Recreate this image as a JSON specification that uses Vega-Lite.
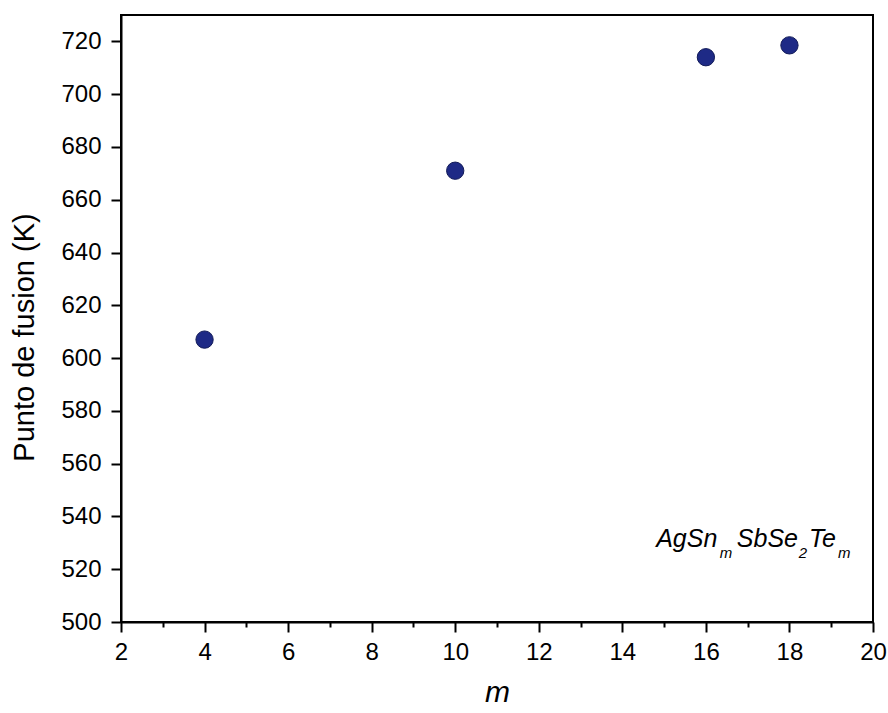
{
  "$schema": "https://vega.github.io/schema/vega-lite/v6.json",
  "width": 752,
  "height": 607,
  "autosize": {"type": "none"},
  "padding": {"left": 121, "top": 15, "right": 15, "bottom": 91},
  "background": "white",
  "config": {
    "view": {"stroke": "black", "strokeWidth": 2},
    "font": "Liberation Sans",
    "axis": {
      "domainColor": "black",
      "domainWidth": 2,
      "tickColor": "black",
      "tickWidth": 2,
      "labelColor": "black",
      "labelFont": "Liberation Sans",
      "labelFontSize": 24,
      "titleFont": "Liberation Sans",
      "titleColor": "black",
      "titleFontWeight": "normal",
      "grid": false,
      "labelOverlap": false,
      "labelFlush": false
    }
  },
  "datasets": {
    "points": [
      {"m": 4, "T": 607},
      {"m": 10, "T": 671},
      {"m": 16, "T": 714},
      {"m": 18, "T": 718.5}
    ],
    "label": [
      {"piece": "AgSn", "px": 14.81, "py": 528.4, "role": "main"},
      {"piece": "m", "px": 16.33, "py": 524.2, "role": "sub"},
      {"piece": "SbSe", "px": 16.74, "py": 528.4, "role": "main"},
      {"piece": "2", "px": 18.22, "py": 524.2, "role": "sub"},
      {"piece": "Te", "px": 18.47, "py": 528.4, "role": "main"},
      {"piece": "m", "px": 19.16, "py": 524.2, "role": "sub"}
    ]
  },
  "layer": [
    {
      "data": {"name": "points"},
      "mark": {"type": "point", "filled": true, "size": 300, "color": "#1e2a86", "opacity": 1, "stroke": "#111a58", "strokeWidth": 1},
      "encoding": {
        "x": {
          "field": "m", "type": "quantitative",
          "scale": {"domain": [2, 20], "nice": false, "zero": false},
          "axis": {
            "title": "m",
            "titleFontSize": 30,
            "titleFontStyle": "italic",
            "titlePadding": 13,
            "values": [2,3,4,5,6,7,8,9,10,11,12,13,14,15,16,17,18,19,20],
            "labelExpr": "datum.value % 2 == 0 ? datum.label : ''",
            "tickSize": {"condition": {"test": "datum.value % 2 == 0", "value": 10}, "value": 5},
            "labelPadding": 8
          }
        },
        "y": {
          "field": "T", "type": "quantitative",
          "scale": {"domain": [500, 730], "nice": false, "zero": false},
          "axis": {
            "title": "Punto de fusion (K)",
            "titleFontSize": 29,
            "titleAngle": -90,
            "titleX": -88,
            "titleY": 322,
            "titleAlign": "center",
            "titleBaseline": "alphabetic",
            "values": [500,510,520,530,540,550,560,570,580,590,600,610,620,630,640,650,660,670,680,690,700,710,720],
            "labelExpr": "datum.value % 20 == 0 ? datum.label : ''",
            "tickSize": {"condition": {"test": "datum.value % 20 == 0", "value": 10}, "value": 5},
            "labelPadding": 10
          }
        }
      }
    },
    {
      "data": {"name": "label"},
      "transform": [{"filter": "datum.role == 'main'"}],
      "mark": {"type": "text", "align": "left", "baseline": "alphabetic", "fontSize": 25, "fontStyle": "italic", "font": "Liberation Sans", "color": "black"},
      "encoding": {
        "x": {"field": "px", "type": "quantitative", "title": "m"},
        "y": {"field": "py", "type": "quantitative", "title": "Punto de fusion (K)"},
        "text": {"field": "piece"}
      }
    },
    {
      "data": {"name": "label"},
      "transform": [{"filter": "datum.role == 'sub'"}],
      "mark": {"type": "text", "align": "left", "baseline": "alphabetic", "fontSize": 15, "fontStyle": "italic", "font": "Liberation Sans", "color": "black"},
      "encoding": {
        "x": {"field": "px", "type": "quantitative", "title": "m"},
        "y": {"field": "py", "type": "quantitative", "title": "Punto de fusion (K)"},
        "text": {"field": "piece"}
      }
    }
  ]
}
